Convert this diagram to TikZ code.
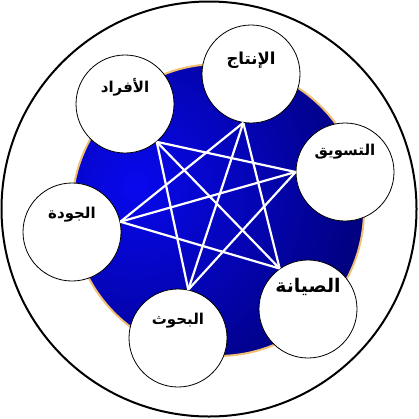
\documentclass[tikz,border=0pt]{standalone}
\usepackage{fontspec}
\newfontfamily\arabicfont[Script=Arabic,BoldFont={DejaVu Sans Bold}]{DejaVu Sans}
\TeXXeTstate=1
\usetikzlibrary{positioning}
\definecolor{ringgold}{RGB}{240,192,112}
\definecolor{discblue}{RGB}{8,8,238}
\definecolor{discnavy}{RGB}{0,0,118}

\begin{document}
\begin{tikzpicture}[x=1pt,y=-1pt,
        unit/.style={shape=circle,draw=black,fill=white,line width=0.8pt,minimum size=98pt,inner sep=0},
        word/.style={font=\arabicfont\bfseries\fontsize{15}{15}\selectfont,inner sep=0},
        link/.style={draw=white,line width=2.2pt},
        ]
\useasboundingbox (0,0) rectangle (419,418);

% frame and disc
\draw[line width=2pt] (209,209) circle (207.5pt);
\begin{scope}
    \clip (218,210) circle (146pt);
    \shade[inner color=discblue,outer color=discnavy] (135,185) circle (250pt);
\end{scope}
\draw[ringgold,line width=2pt] (218,210) circle (146pt);

\node[unit] (afrad) at (125,104) {};
\node[unit] (intaj) at (251,74) {};
\node[unit] (taswiq) at (345,172) {};
\node[unit] (jawda) at (72,232) {};
\node[unit] (siyana) at (308,309) {};
\node[unit] (buhuth) at (178,338) {};

\node[word] (afrad-t) at ([yshift=17pt]afrad.center) {\beginR الأفراد\endR};
\node[word,scale=1.1] (intaj-t) at ([yshift=14pt]intaj.center) {\beginR الإنتاج\endR};
\node[word] (taswiq-t) at ([yshift=20pt]taswiq.center) {\beginR التسويق\endR};
\node[word] (jawda-t) at ([yshift=17pt]jawda.center) {\beginR الجودة\endR};
\node[word,scale=1.25] (siyana-t) at ([yshift=22pt]siyana.center) {\beginR الصيانة\endR};
\node[word] (buhuth-t) at ([yshift=17pt]buhuth.center) {\beginR البحوث\endR};

% the star
\path[link] (afrad.-50) edge (taswiq.180);
\path[link] (afrad.-50) edge (buhuth.78);
\path[link] (afrad.-50) edge (siyana.125);
\path[link] (intaj.-99) edge (jawda.12);
\path[link] (intaj.-99) edge (buhuth.78);
\path[link] (intaj.-99) edge (siyana.125);
\path[link] (taswiq.180) edge (jawda.12);
\path[link] (taswiq.180) edge (buhuth.78);
\path[link] (jawda.12) edge (siyana.125);

\end{tikzpicture}
\end{document}
